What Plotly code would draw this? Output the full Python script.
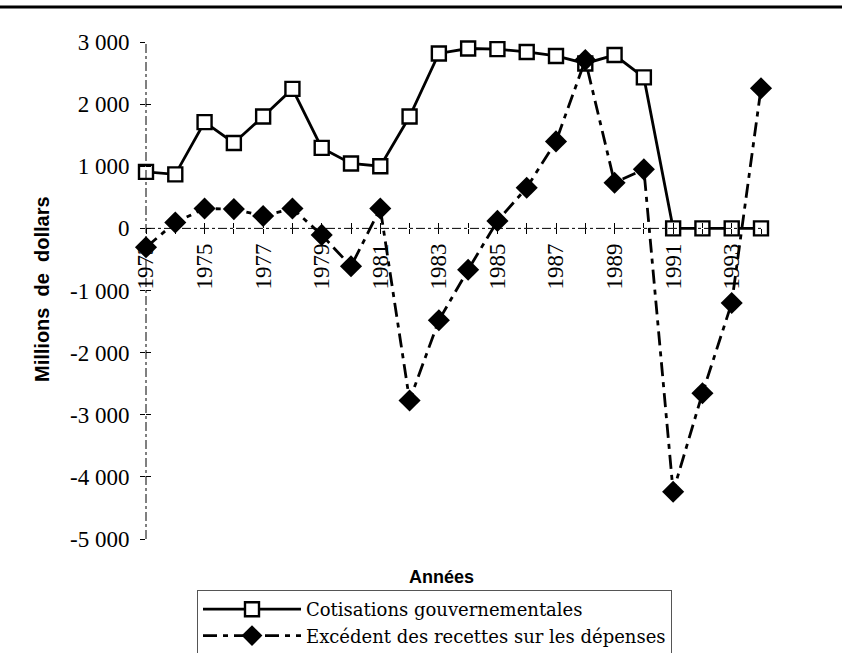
import plotly.graph_objects as go

years = list(range(1973, 1995))
cotisations = [910, 870, 1710, 1375, 1800, 2245, 1295, 1045, 1000, 1800, 2815,
               2895, 2885, 2840, 2775, 2655, 2790, 2430, 0, 0, 0, 0]
excedent = [-305, 95, 320, 310, 200, 320, -105, -610, 320, -2770, -1480,
            -665, 120, 655, 1400, 2710, 735, 950, -4240, -2655, -1200, 2255]
ytick_vals = [3000, 2000, 1000, 0, -1000, -2000, -3000, -4000, -5000]
ytick_text = ["3 000", "2 000", "1 000", "0", "-1 000", "-2 000", "-3 000", "-4 000", "-5 000"]
xtick_text = [str(y) if (y - 1973) % 2 == 0 else "" for y in years]

SERIF = "Liberation Serif"
fig = go.Figure()
fig.add_trace(go.Scatter(
    x=years, y=cotisations, name="Cotisations gouvernementales",
    mode="lines+markers", cliponaxis=False,
    line=dict(color="black", width=2.8),
    marker=dict(symbol="square", size=14, color="white",
                line=dict(color="black", width=2.4))))
fig.add_trace(go.Scatter(
    x=years, y=excedent, name="Excédent des recettes sur les dépenses",
    mode="lines+markers", cliponaxis=False,
    line=dict(color="black", width=2.8, dash="14px,6px,5px,6px"),
    marker=dict(symbol="diamond", size=17, color="black")))
# invisible trace to host cross-tick overlay axes
fig.add_trace(go.Scatter(x=[years[0]], y=[0], xaxis="x2", yaxis="y2",
                         mode="markers", marker=dict(opacity=0),
                         showlegend=False, hoverinfo="skip"))

fig.update_layout(
    width=842, height=653,
    margin=dict(l=146, r=81, t=42, b=114, autoexpand=False),
    paper_bgcolor="white", plot_bgcolor="white",
    showlegend=True,
    xaxis=dict(range=[1973, 1994], tickvals=years, ticktext=xtick_text,
               tickangle=-90, ticks="outside", ticklen=5, tickcolor="black",
               showgrid=False, zeroline=False, showline=False,
               anchor="free", position=0.625,
               tickfont=dict(family=SERIF, size=23, color="black")),
    xaxis2=dict(range=[1973, 1994], tickvals=years, overlaying="x",
                ticks="inside", ticklen=5, tickcolor="black",
                showticklabels=False, showgrid=False, zeroline=False,
                showline=False, anchor="free", position=0.625),
    yaxis=dict(range=[-5000, 3000], tickvals=ytick_vals, ticktext=ytick_text,
               ticks="outside", ticklen=5, tickcolor="black",
               showgrid=False, zeroline=False, showline=False,
               ticklabelstandoff=6,
               tickfont=dict(family=SERIF, size=23, color="black")),
    yaxis2=dict(range=[-5000, 3000], tickvals=ytick_vals, overlaying="y",
                ticks="inside", ticklen=5, tickcolor="black",
                showticklabels=False, showgrid=False, zeroline=False,
                showline=False, side="left"),
    legend=dict(x=(197 - 146) / 615, y=(539 - 590) / 497,
                xanchor="left", yanchor="top",
                bordercolor="#555", borderwidth=1,
                itemwidth=98, tracegroupgap=0,
                font=dict(family="DejaVu Serif", size=18, color="black")),
    shapes=[
        dict(type="line", xref="paper", yref="paper", x0=0, x1=0, y0=0, y1=1,
             line=dict(color="black", width=1, dash="dashdot")),
        dict(type="line", xref="paper", yref="y", x0=0, x1=1, y0=0, y1=0,
             line=dict(color="black", width=1, dash="dashdot")),
        dict(type="line", xref="paper", yref="paper",
             x0=-146 / 615, x1=1 + 81 / 615,
             y0=1 + 35 / 497, y1=1 + 35 / 497,
             line=dict(color="black", width=3)),
    ],
    annotations=[
        dict(text="<b>Millions  de  dollars</b>", xref="paper", yref="paper",
             x=(42 - 146) / 615, y=(539 - 289) / 497, textangle=-90,
             showarrow=False, xanchor="center", yanchor="middle",
             font=dict(family="Liberation Sans", size=20, color="black")),
        dict(text="<b>Années</b>", xref="paper", yref="paper",
             x=(441 - 146) / 615, y=(539 - 577) / 497,
             showarrow=False, xanchor="center", yanchor="middle",
             font=dict(family="Liberation Sans", size=18, color="black")),
    ],
)
fig.write_html("out.html", config={"displayModeBar": False},
               post_script="document.body.style.margin='0';"
                           "document.body.style.overflow='hidden';")
